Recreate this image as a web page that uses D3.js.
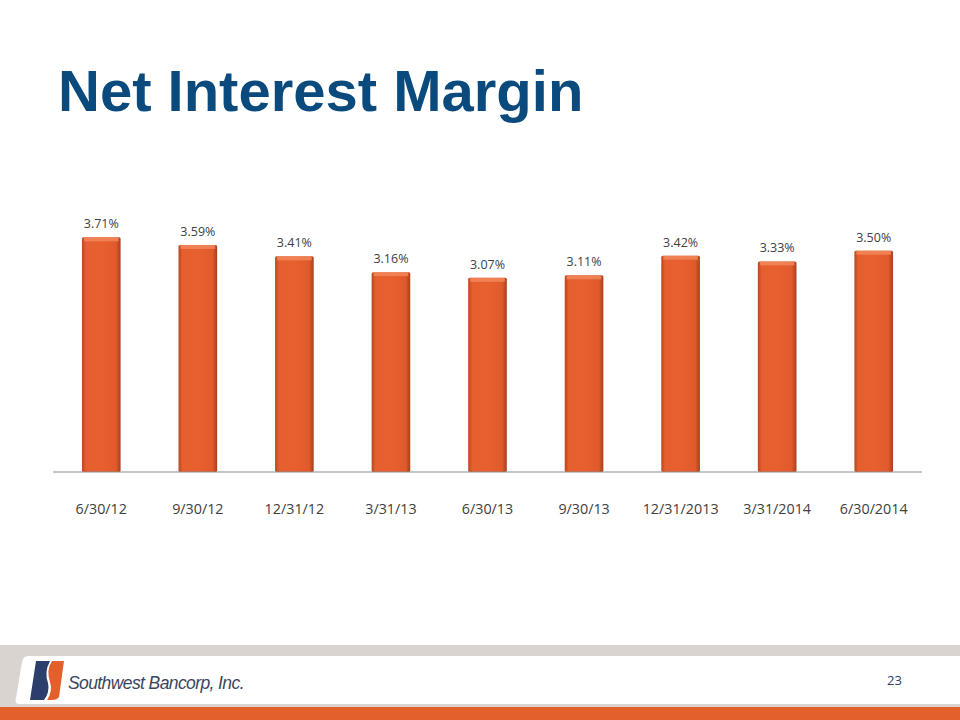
<!DOCTYPE html>
<html>
<head>
<meta charset="utf-8">
<script src="https://cdn.jsdelivr.net/npm/d3@7"></script>
<style>
  body { margin: 0; background: #fff; }
  svg { display: block; }
</style>
</head>
<body>
<div id="chart"></div>
<script>
const categories = ["6/30/12", "9/30/12", "12/31/12", "3/31/13", "6/30/13", "9/30/13", "12/31/2013", "3/31/2014", "6/30/2014"];
const margins = [3.71, 3.59, 3.41, 3.16, 3.07, 3.11, 3.42, 3.33, 3.50];

const W = 960, H = 720;
const svg = d3.select("#chart").append("svg").attr("width", W).attr("height", H);
const defs = svg.append("defs");

// bar shading: darker edges, lighter centre
const grad = defs.append("linearGradient").attr("id", "barGrad").attr("x1", 0).attr("x2", 1).attr("y1", 0).attr("y2", 0);
grad.append("stop").attr("offset", "0%").attr("stop-color", "#b8471f");
grad.append("stop").attr("offset", "10%").attr("stop-color", "#e55f2f");
grad.append("stop").attr("offset", "50%").attr("stop-color", "#e8602f");
grad.append("stop").attr("offset", "88%").attr("stop-color", "#e05a2c");
grad.append("stop").attr("offset", "100%").attr("stop-color", "#a83f1b");

// title
svg.append("text")
  .attr("x", 58).attr("y", 111)
  .attr("font-family", "Liberation Sans, Arial, sans-serif")
  .attr("font-weight", "bold").attr("font-size", 58)
  .attr("fill", "#0b4a7d")
  .text("Net Interest Margin");

// chart
const x = d3.scaleBand().domain(categories).range([53, 922]).paddingInner(0.6).paddingOuter(0.3);
const y = d3.scaleLinear().domain([0, 4]).range([472, 219]);

const bars = svg.append("g").selectAll("g").data(margins).join("g");

bars.append("rect")
  .attr("x", (d, i) => x(categories[i]))
  .attr("y", d => y(d))
  .attr("width", x.bandwidth())
  .attr("height", d => y(0) - y(d))
  .attr("rx", 1.5)
  .attr("fill", "url(#barGrad)");

// top bevel highlight
bars.append("rect")
  .attr("x", (d, i) => x(categories[i]) + 2)
  .attr("y", d => y(d))
  .attr("width", x.bandwidth() - 4)
  .attr("height", 4)
  .attr("fill", "#f28a5e")
  .attr("opacity", 0.8);

bars.append("text")
  .attr("x", (d, i) => x(categories[i]) + x.bandwidth() / 2)
  .attr("y", d => y(d) - 9)
  .attr("text-anchor", "middle")
  .attr("font-family", "Open Sans, Liberation Sans, sans-serif")
  .attr("font-size", 12.5)
  .attr("fill", "#404040")
  .text(d => d.toFixed(2) + "%");

// x axis
const xAxis = svg.append("g")
  .attr("transform", `translate(0,${y(0)})`)
  .call(d3.axisBottom(x).tickSize(0).tickPadding(32));
xAxis.select(".domain").attr("stroke", "#8c8c8c").attr("d", "M53,0H922");
xAxis.selectAll("text")
  .attr("font-family", "Open Sans, Liberation Sans, sans-serif")
  .attr("font-size", 14.3)
  .attr("fill", "#404040");

// footer
const foot = svg.append("g");
foot.append("rect").attr("x", 0).attr("y", 645).attr("width", W).attr("height", 63).attr("fill", "#d9d4d0");
foot.append("rect").attr("x", 0).attr("y", 707).attr("width", W).attr("height", 13).attr("fill", "#e35f2b");
foot.append("path")
  .attr("d", "M28,656 H960 V704 H20 Q14,704 16,698 L22,662 Q23,656 28,656 Z")
  .attr("fill", "#ffffff");

// logo mark
foot.append("path").attr("d", "M36,661 H50 Q44,672 48,683 Q50,692 44,700 H30 Z").attr("fill", "#2c3e6b");
foot.append("path").attr("d", "M52,661 H64 L59,697 Q57,700 52,700 H47 Q53,691 50,682 Q46,670 52,661 Z").attr("fill", "#e35f2b");

foot.append("text")
  .attr("x", 68).attr("y", 689)
  .attr("font-family", "Liberation Sans, Arial, sans-serif")
  .attr("font-style", "italic").attr("font-size", 17.5)
  .attr("letter-spacing", -0.6)
  .attr("fill", "#3a4660")
  .text("Southwest Bancorp, Inc.");

foot.append("text")
  .attr("x", 887).attr("y", 685)
  .attr("font-family", "Open Sans, Liberation Sans, sans-serif")
  .attr("font-size", 13)
  .attr("fill", "#2c3e6b")
  .text("23");
</script>
</body>
</html>
